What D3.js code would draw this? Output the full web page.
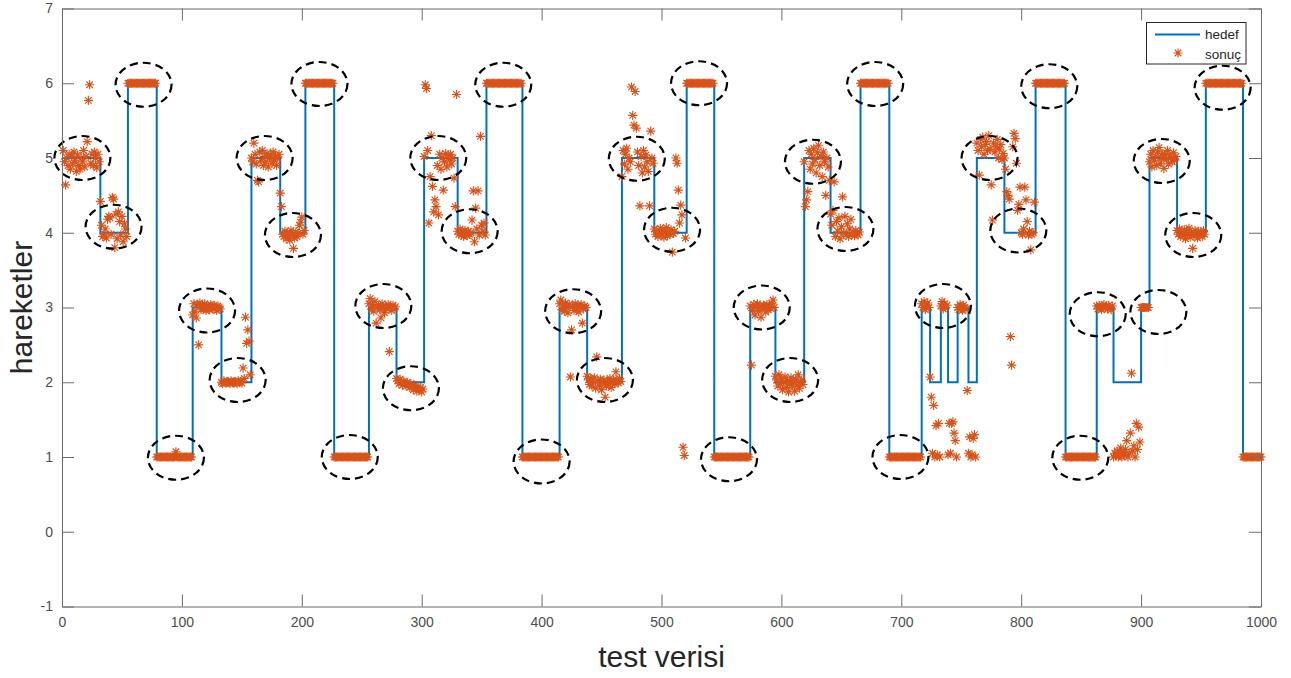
<!DOCTYPE html>
<html><head><meta charset="utf-8">
<script src="https://cdn.jsdelivr.net/npm/d3@7"></script>
<style>
html,body{margin:0;padding:0;background:#fff;}
svg{display:block;font-family:"Liberation Sans",Arial,Helvetica,sans-serif;}
</style></head><body>
<svg id="chart" width="1291" height="678"></svg>
<script>
// ---- data ----
const xTickValues = [0,100,200,300,400,500,600,700,800,900,1000];
const yTickValues = [-1,0,1,2,3,4,5,6,7];
const xAxisLabel = "test verisi";
const yAxisLabel = "hareketler";
const legendLabels = ["hedef", "sonuç"];

// target (hedef): segment start indices and levels
const hedefSinir = [1,32,55,79,109,133,158,182,203,227,256,279,302,330,354,384,415,438,467,494,521,544,574,595,619,641,666,690,717,724,733,739,747,756,763,786,812,837,863,877,900,907,930,954,985,1000];
const hedefSeviye = [5,4,6,1,3,2, 5,4,6,1,3,2, 5,4,6,1,3,2, 5,4,6,1,3,2, 5,4,6,1, 3,2,3,2,3,2, 5,4,6,1, 3,2,3, 5,4,6,1];

// result (sonuç): where the output differs from the target, [first index, values...]
const sonucBloklari = [
 [1,[5.1,4.95,4.64,5.0,4.9,5.05,4.85,5.02,4.92,5.08,4.97,4.82,5.04,4.9,4.85,5.0,4.95,5.1,4.88,5.02,5.22,5.77,5.98,4.93,5.05,4.9,5.08,5.0,4.87,5.05,4.95]],
 [32,[4.42,4.1,3.95,3.97,4.05,3.93,4.18,4.22,4.2,3.98,4.47,4.45,3.8,4.25,3.92,4.28,4.15,3.97,4.22,3.88,4.12,4.05,3.95]],
 [95,[1.07]],
 [109,[2.9,3.05,2.95,2.86,3.04,2.5,3.06,2.97,3.03,2.98,3.05,2.96,3.02,3.0,2.97,3.04,3.01,2.98,3.03,2.99,2.96,3.02,3.0,2.98]],
 [133,[2.0,1.98,2.02,2.0,1.99,2.01,2.0,1.98,2.02,2.0,1.99,2.01,2.0,1.98,2.02,2.0,2.01,1.99,2.19,2.05,2.87,2.52,2.7,2.55,2.1]],
 [158,[5.0,4.95,5.2,5.05,4.92,4.7,4.68,5.08,4.97,5.1,4.9,5.02,4.95,5.06,4.88,5.0,5.04,4.93,5.08,4.97,5.03,4.9,5.0,5.05]],
 [182,[4.53,4.35,3.98,3.95,4.02,3.92,4.0,3.96,3.9,4.03,3.97,3.79,3.93,4.01,3.95,3.99,4.1,4.14,4.21,3.98,4.03]],
 [256,[3.05,3.12,2.98,3.04,2.95,3.08,2.79,3.0,3.03,2.97,2.86,3.05,3.0,2.93,3.02,2.98,3.04,2.41,3.0,2.96,3.03,2.99,3.01]],
 [279,[2.05,2.02,1.98,2.04,2.0,1.96,2.01,1.99,1.95,2.0,1.97,1.93,1.98,1.95,1.9,1.96,1.92,1.88,1.94,1.9,1.93,1.87,1.91]],
 [302,[5.02,5.98,5.93,5.1,4.13,4.75,5.3,4.62,4.28,4.44,4.35,4.9,4.24,5.05,4.85,5.0,4.57,4.95,5.06,4.88,5.03,4.97,5.05,4.92,5.0,4.73,4.35,5.85]],
 [330,[4.02,3.98,4.05,3.97,4.01,3.95,4.03,3.99,3.96,4.02,3.98,4.0,4.17,4.56,3.88,4.33,4.05,4.56,3.97,5.29,4.1,4.02,4.13,3.97]],
 [415,[3.05,3.1,2.97,3.03,2.95,3.06,3.0,2.93,3.04,2.07,2.7,3.02,2.96,3.05,2.99,3.03,2.94,3.01,3.04,2.79,2.98,3.02,3.0]],
 [438,[2.08,2.03,1.97,2.05,1.95,2.0,2.06,1.92,2.34,2.02,1.96,2.04,1.9,1.99,2.03,1.8,1.95,2.01,1.97,2.05,1.93,2.0,2.03,1.98,2.14,2.02,1.99,2.05,2.01]],
 [467,[4.75,5.1,4.92,5.05,5.13,4.85,5.0,4.95,5.95,5.57,5.44,5.89,5.4,5.08,4.9,4.36,5.02,4.8,5.1,4.88,5.04,4.95,4.82,4.36,5.36,5.0,4.93]],
 [494,[4.05,3.98,4.02,3.95,4.0,4.06,3.97,4.03,3.94,4.01,4.07,3.96,4.0,3.98,4.04,3.74,3.99,4.02,5.0,4.93,4.57,4.13,4.37,4.24,1.13,1.02,3.93]],
 [574,[3.02,2.23,2.96,3.04,2.9,3.0,3.05,2.95,3.02,2.87,2.98,3.03,3.0,2.94,3.04,2.97,3.01,2.99,3.05,3.1,3.0]],
 [595,[2.08,2.03,1.95,2.1,1.98,2.05,1.9,2.0,2.07,1.93,2.02,1.87,1.98,2.06,1.95,2.0,1.88,2.04,1.96,2.1,1.92,2.0,2.03,1.97]],
 [619,[4.95,4.35,4.44,4.55,5.1,4.85,5.05,4.92,5.13,4.98,4.8,5.07,5.17,4.9,5.02,4.75,5.08,4.95,4.5,5.0,4.88,4.7]],
 [641,[4.25,4.1,4.3,4.68,3.95,4.15,4.02,4.2,3.92,4.08,4.48,4.0,4.22,3.97,4.12,3.95,4.05,4.18,3.98,4.0,3.96,4.03,3.99,3.97,4.01]],
 [717,[3.05,3.0,3.08,2.97,3.03,3.06,3.0,2.07,1.8,1.05,1.69,1.0,1.42,1.03,1.45,1.0,3.02,3.08,2.98,3.05,3.0,3.03,1.03,1.45,1.05,1.45,1.47,1.32,1.22,1.0,3.0,2.97,3.04,3.01,2.96,3.03,3.0,2.98,1.89,1.05,1.27,1.0,1.03,1.25,1.3,1.0]],
 [763,[5.2,5.1,4.77,5.25,5.15,5.28,5.05,5.18,5.22,5.1,5.3,5.12,4.64,4.17,5.2,5.08,5.15,5.25,5.0,5.12,5.18,4.98,5.06]],
 [786,[5.0,4.85,4.55,4.5,4.45,2.61,2.23,5.15,5.33,5.26,4.93,4.3,4.38,4.61,4.0,3.98,4.05,4.61,4.44,4.15,3.97,4.02,3.77,3.98,4.0,4.41]],
 [863,[3.02,2.98,3.03,3.0,2.97,3.02,3.04,2.99,3.01,2.98,3.03,3.0,2.97,3.02]],
 [877,[1.0,1.05,1.02,1.08,1.0,1.04,1.12,1.0,1.06,1.03,1.1,1.22,1.0,1.05,1.32,2.12,1.08,1.15,1.0,1.45,1.1,1.4,1.2]],
 [907,[4.95,5.05,4.88,5.1,4.97,5.02,4.9,5.08,5.14,4.93,5.0,5.06,4.86,5.03,4.98,5.1,4.92,5.04,5.0,4.95,5.07,4.97,5.02]],
 [930,[4.03,3.98,4.05,3.95,4.0,3.97,4.04,3.92,4.01,3.98,4.06,3.94,4.0,3.79,3.96,4.03,3.99,3.93,4.02,3.97,4.0,3.95,4.03,3.98]]
];

// dashed annotation ellipses (centres in data units)
const elipsX = [17,43,68,95,121,146.5,169,192.6,214.7,240,268,291,313.8,340,368,400,426.3,452.8,479.4,508.8,531.3,556.3,583.6,607.3,626.3,653.4,678.2,699.3,734.7,773.6,797.6,823.4,849.3,863.8,914.4,917.2,943.5,968];
const elipsY = [5.0,4.08,5.98,0.99,2.96,2.03,5.0,3.97,5.99,1.0,3.02,1.92,5.0,4.02,5.98,0.94,2.95,2.03,4.99,4.04,6.0,0.97,3.0,2.03,4.95,4.05,5.99,1.0,3.02,5.0,4.03,5.96,0.99,2.91,2.94,4.96,3.97,5.94];

// ---- layout / style ----
const W = 1291, H = 678;
const M = {left: 62, right: 1261, top: 8.5, bottom: 606.5};
const BLUE = "#0072BD", ORANGE = "#D95319", AXIS = "#6b6b6b", TEXT = "#262626";

const svg = d3.select("#chart");
svg.append("rect").attr("width", W).attr("height", H).attr("fill", "#fff");

const x = d3.scaleLinear().domain([0, 1000]).range([M.left, M.right]);
const y = d3.scaleLinear().domain([-1, 7]).range([M.bottom, M.top]);

// target line
const hedefPts = hedefSeviye.map((lv, i) => [hedefSinir[i], lv]);
hedefPts.push([hedefSinir[hedefSinir.length - 1], hedefSeviye[hedefSeviye.length - 1]]);
svg.append("path")
  .attr("d", d3.line().x(d => x(d[0])).y(d => y(d[1])).curve(d3.curveStepAfter)(hedefPts))
  .attr("fill", "none").attr("stroke", BLUE).attr("stroke-width", 2);

// result points
function hedefAt(i) {
  for (let k = hedefSeviye.length - 1; k >= 0; k--) if (i >= hedefSinir[k]) return hedefSeviye[k];
  return hedefSeviye[0];
}
const override = new Map();
sonucBloklari.forEach(([s, vals]) => vals.forEach((v, j) => override.set(s + j, v)));
const sonuc = d3.range(1, 1001).map(i => [i, override.has(i) ? override.get(i) : hedefAt(i)]);

const r = 4.6, d2 = r * 0.7071;
const star = `M${-r},0H${r}M0,${-r}V${r}M${-d2},${-d2}L${d2},${d2}M${-d2},${d2}L${d2},${-d2}`;
svg.append("g").selectAll("path").data(sonuc).join("path")
  .attr("transform", d => `translate(${x(d[0])},${y(d[1])})`)
  .attr("d", star).attr("fill", "none").attr("stroke", ORANGE).attr("stroke-width", 1.15);

// ellipses
svg.append("g").selectAll("ellipse").data(elipsX.map((v, i) => [v, elipsY[i]])).join("ellipse")
  .attr("cx", d => x(d[0])).attr("cy", d => y(d[1]))
  .attr("rx", 28).attr("ry", 22)
  .attr("fill", "none").attr("stroke", "#000").attr("stroke-width", 2.2)
  .attr("stroke-dasharray", "8,5");

// axes
const fmt = d => String(d);
function styleAxis(g) {
  g.selectAll(".domain").attr("stroke", AXIS).attr("stroke-width", 1);
  g.selectAll(".tick line").attr("stroke", AXIS).attr("stroke-width", 1);
  g.selectAll(".tick text").attr("fill", "#4d4d4d").style("font-size", "14px")
    .style("font-family", '"Liberation Sans",Arial,Helvetica,sans-serif');
}
svg.append("g").attr("transform", `translate(0,${M.bottom})`)
  .call(d3.axisBottom(x).tickValues(xTickValues).tickFormat(fmt).tickSizeInner(-12).tickSizeOuter(0).tickPadding(11))
  .call(styleAxis);
svg.append("g").attr("transform", `translate(${M.left},0)`)
  .call(d3.axisLeft(y).tickValues(yTickValues).tickFormat(fmt).tickSizeInner(-12).tickSizeOuter(0).tickPadding(9))
  .call(styleAxis);
svg.append("g").attr("transform", `translate(0,${M.top})`)
  .call(d3.axisTop(x).tickValues(xTickValues).tickSizeInner(-12).tickSizeOuter(0).tickFormat(""))
  .call(styleAxis);
svg.append("g").attr("transform", `translate(${M.right},0)`)
  .call(d3.axisRight(y).tickValues(yTickValues).tickSizeInner(-12).tickSizeOuter(0).tickFormat(""))
  .call(styleAxis);

// axis labels
svg.append("text").attr("x", (M.left + M.right) / 2).attr("y", 667)
  .attr("text-anchor", "middle").attr("fill", TEXT).style("font-size", "30px").text(xAxisLabel);
svg.append("text").attr("transform", `translate(32,${(M.top + M.bottom) / 2}) rotate(-90)`)
  .attr("text-anchor", "middle").attr("fill", TEXT).style("font-size", "30px").text(yAxisLabel);

// legend
const lg = svg.append("g");
lg.append("rect").attr("x", 1146.5).attr("y", 22.5).attr("width", 99.5).attr("height", 41.5)
  .attr("fill", "#fff").attr("stroke", TEXT).attr("stroke-width", 1);
lg.append("line").attr("x1", 1155).attr("x2", 1200).attr("y1", 34.5).attr("y2", 34.5)
  .attr("stroke", BLUE).attr("stroke-width", 2);
lg.append("path").attr("transform", "translate(1178,53)").attr("d", star)
  .attr("fill", "none").attr("stroke", ORANGE).attr("stroke-width", 1.15);
lg.selectAll("text.lt").data(legendLabels).join("text").attr("class", "lt")
  .attr("x", 1205).attr("y", (d, i) => 39 + i * 19.5)
  .attr("fill", TEXT).style("font-size", "13.5px").text(d => d);
</script>
</body></html>
